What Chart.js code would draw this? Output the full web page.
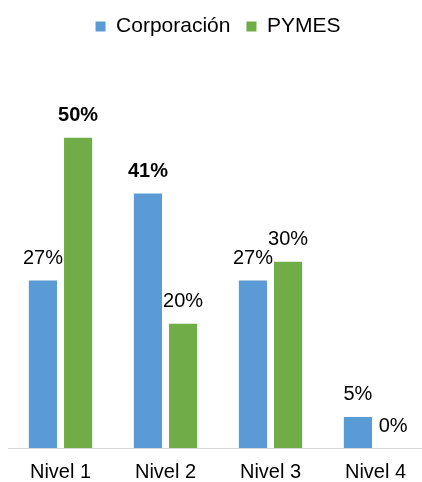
<!DOCTYPE html>
<html lang="es">
<head>
  <meta charset="UTF-8">
  <title>Niveles por tipo de empresa</title>
  <script src="https://cdn.jsdelivr.net/npm/chart.js"></script>
  <style>
    html, body { margin: 0; padding: 0; background: #fff; overflow: hidden; }
    #wrap { width: 428px; height: 482px; }
  </style>
</head>
<body>
  <div id="wrap">
    <canvas id="myChart" width="428" height="482"></canvas>
  </div>

  <script>
    // Data
    const niveles = ['Nivel 1', 'Nivel 2', 'Nivel 3', 'Nivel 4'];
    const corporacion = [27, 41, 27, 5];
    const pymes = [50, 20, 30, 0];

    const FONT = '"Liberation Sans", Arial, sans-serif';

    // Draws the percentage above each bar; the largest value of each series in bold
    const valueLabels = {
      id: 'valueLabels',
      afterDatasetsDraw(chart) {
        const ctx = chart.ctx;
        ctx.save();
        ctx.fillStyle = '#000';
        ctx.textAlign = 'center';
        ctx.textBaseline = 'middle';
        chart.data.datasets.forEach((ds, i) => {
          const meta = chart.getDatasetMeta(i);
          const top = Math.max(...ds.data);
          meta.data.forEach((bar, j) => {
            const v = ds.data[j];
            ctx.font = (v === top ? 'bold ' : '') + '20px ' + FONT;
            ctx.fillText(v + '%', bar.x, bar.y - 22);
          });
        });
        ctx.restore();
      }
    };

    const ctx = document.getElementById('myChart').getContext('2d');
    const myChart = new Chart(ctx, {
      type: 'bar',
      data: {
        labels: niveles,
        datasets: [
          {
            label: 'Corporación',
            data: corporacion,
            backgroundColor: '#5B9BD5',
            categoryPercentage: 0.67,
            barPercentage: 0.8
          },
          {
            label: 'PYMES',
            data: pymes,
            backgroundColor: '#70AD47',
            categoryPercentage: 0.67,
            barPercentage: 0.8
          }
        ]
      },
      options: {
        responsive: false,
        animation: false,
        layout: { padding: { left: 8, right: 0, top: 0, bottom: 0 } },
        plugins: {
          legend: {
            position: 'top',
            labels: {
              boxWidth: 10,
              boxHeight: 10,
              padding: 16,
              color: '#000',
              font: { family: FONT, size: 21 }
            }
          },
          tooltip: { enabled: false }
        },
        scales: {
          x: {
            grid: { display: false, drawTicks: false },
            border: { display: true, color: '#d9d9d9', width: 1 },
            ticks: {
              color: '#000',
              padding: 12,
              font: { family: FONT, size: 20 }
            },
            // fixed band under the axis for the category names
            afterFit(scale) {
              scale.height = 34;
            }
          },
          y: {
            display: false,
            min: 0,
            max: 64.6
          }
        }
      },
      plugins: [valueLabels]
    });
  </script>
</body>
</html>
